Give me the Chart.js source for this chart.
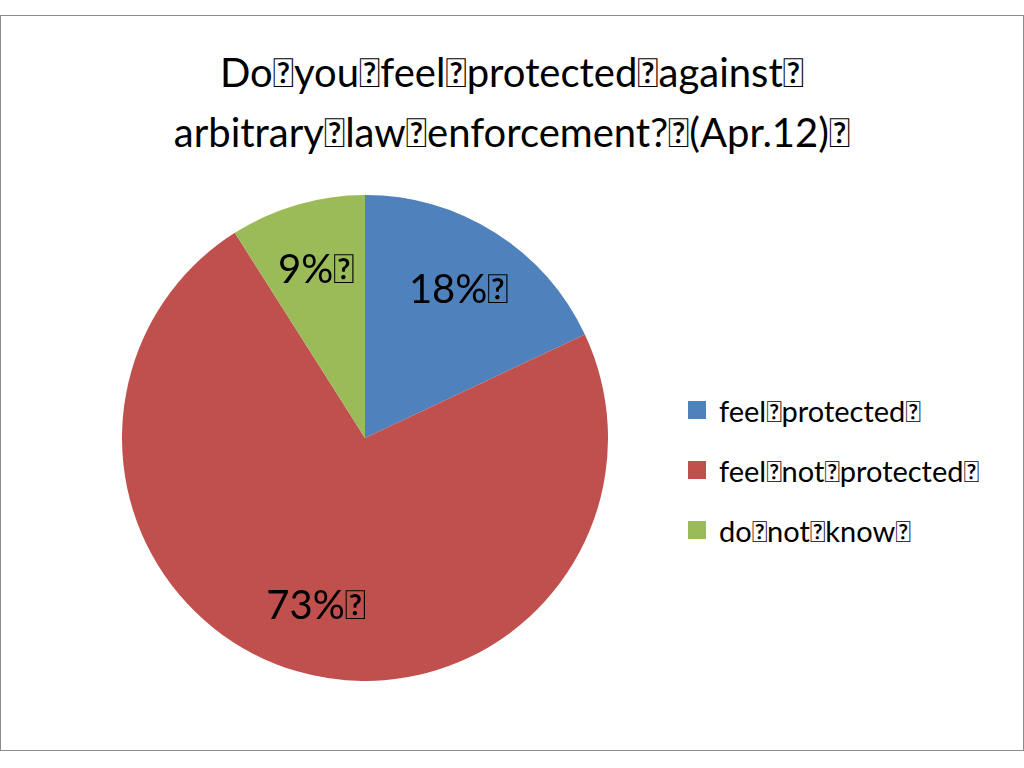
<!DOCTYPE html>
<html><head><meta charset="utf-8">
<script src="https://cdn.jsdelivr.net/npm/chart.js@4"></script>
<style>
body{margin:0;background:#fff;font-family:Lato,"Open Sans",sans-serif;}
#frame{position:absolute;left:0;top:15px;width:1022px;height:734px;border:1px solid #8c8c8c;}
#title{position:absolute;left:0;width:1024px;top:42px;text-align:center;font-size:40px;line-height:60px;color:#000;}
#wrap{position:absolute;left:122px;top:195px;width:486px;height:486px;}
#legend{position:absolute;left:688px;top:380px;font-size:29px;}
.row{height:60px;display:flex;align-items:center;}
.sw{width:18px;height:18px;margin-right:13px;}
</style></head><body>
<div id="frame"></div>
<div id="title">Do&#xF020;you&#xF020;feel&#xF020;protected&#xF020;against&#xF020;<br>arbitrary&#xF020;law&#xF020;enforcement?&#xF020;(Apr.12)&#xF020;</div>
<div id="wrap"><canvas id="myChart"></canvas></div>
<div id="legend"></div>
<script>
var categories = ["feel\uF020protected\uF020", "feel\uF020not\uF020protected\uF020", "do\uF020not\uF020know\uF020"];
var values = [18, 73, 9];
var colors = ['#4f81bd', '#c0504d', '#9bbb59'];

var leg = document.getElementById('legend');
categories.forEach(function (c, i) {
  leg.innerHTML += '<div class="row"><div class="sw" style="background:' + colors[i] + '"></div>' + c + '</div>';
});

/*percent labels*/
var pctLabels = {
  id: 'pctLabels',
  afterDatasetsDraw: function (chart) {
    var ctx = chart.ctx;
    ctx.save();
    ctx.font = '40px Lato, "Open Sans", sans-serif';
    ctx.fillStyle = '#000';
    ctx.textAlign = 'center';
    ctx.textBaseline = 'middle';
    chart.getDatasetMeta(0).data.forEach(function (arc, i) {
      var a = (arc.startAngle + arc.endAngle) / 2;
      var r = arc.outerRadius * 0.72;
      ctx.fillText(values[i] + '%\uF020', arc.x + Math.cos(a) * r, arc.y + Math.sin(a) * r);
    });
    ctx.restore();
  }
};

var ctx = document.getElementById('myChart').getContext('2d');
var chart = new Chart(ctx, {
  type: 'pie',
  data: {
    labels: categories,
    datasets: [{
      data: values,
      backgroundColor: colors,
      borderWidth: 0
    }]
  },
  options: {
    responsive: true,
    maintainAspectRatio: false,
    animation: false,
    plugins: { legend: { display: false }, tooltip: { enabled: false } }
  },
  plugins: [pctLabels]
});
</script>
</body></html>
